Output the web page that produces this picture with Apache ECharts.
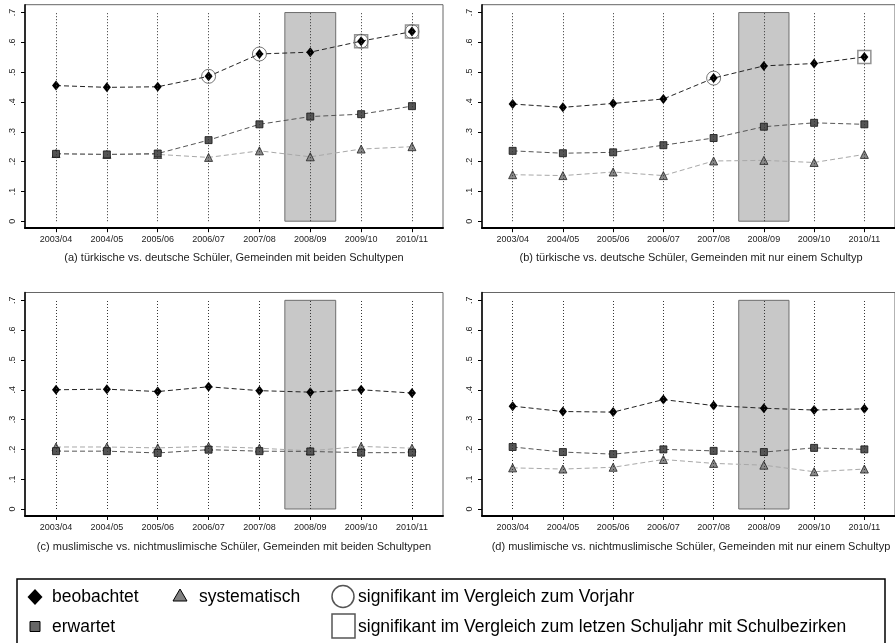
<!DOCTYPE html>
<html>
<head>
<meta charset="utf-8">
<script src="https://cdn.jsdelivr.net/npm/echarts@6.0.0/dist/echarts.min.js"></script>
<style>
html,body{margin:0;padding:0;background:#fff;}
#chart{width:895px;height:643px;}
</style>
</head>
<body>
<div id="chart"></div>
<script>
// ---------- data ----------
const categories = ['2003/04','2004/05','2005/06','2006/07','2007/08','2008/09','2009/10','2010/11'];
const yTickValues = [0, 0.1, 0.2, 0.3, 0.4, 0.5, 0.6, 0.7];
const yTickLabels = ['0', '.1', '.2', '.3', '.4', '.5', '.6', '.7'];
const highlightCategory = '2008/09';

const a_beobachtet   = [0.455, 0.449, 0.451, 0.486, 0.561, 0.567, 0.604, 0.636];
const a_erwartet     = [0.226, 0.224, 0.227, 0.272, 0.325, 0.351, 0.359, 0.386];
const a_systematisch = [0.227, 0.224, 0.224, 0.214, 0.236, 0.216, 0.242, 0.250];
const a_sigVorjahr   = ['2006/07', '2007/08', '2009/10', '2010/11'];
const a_sigBezirk    = ['2009/10', '2010/11'];

const b_beobachtet   = [0.393, 0.382, 0.395, 0.410, 0.480, 0.521, 0.529, 0.551];
const b_erwartet     = [0.236, 0.228, 0.231, 0.255, 0.279, 0.317, 0.330, 0.325];
const b_systematisch = [0.156, 0.153, 0.165, 0.153, 0.202, 0.204, 0.197, 0.224];
const b_sigVorjahr   = ['2007/08'];
const b_sigBezirk    = ['2010/11'];

const c_beobachtet   = [0.400, 0.402, 0.394, 0.410, 0.397, 0.392, 0.400, 0.389];
const c_erwartet     = [0.194, 0.194, 0.188, 0.199, 0.194, 0.193, 0.189, 0.189];
const c_systematisch = [0.208, 0.208, 0.205, 0.210, 0.204, 0.195, 0.210, 0.204];
const c_sigVorjahr   = [];
const c_sigBezirk    = [];

const d_beobachtet   = [0.345, 0.327, 0.325, 0.367, 0.347, 0.338, 0.332, 0.336];
const d_erwartet     = [0.208, 0.191, 0.184, 0.200, 0.195, 0.191, 0.205, 0.200];
const d_systematisch = [0.138, 0.134, 0.140, 0.166, 0.153, 0.147, 0.125, 0.134];
const d_sigVorjahr   = [];
const d_sigBezirk    = [];

const captions = [
  '(a) türkische vs. deutsche Schüler, Gemeinden mit beiden Schultypen',
  '(b) türkische vs. deutsche Schüler, Gemeinden mit nur einem Schultyp',
  '(c) muslimische vs. nichtmuslimische Schüler, Gemeinden mit beiden Schultypen',
  '(d) muslimische vs. nichtmuslimische Schüler, Gemeinden mit nur einem Schultyp'
];
const legendLabels = ['beobachtet', 'erwartet', 'systematisch',
  'signifikant im Vergleich zum Vorjahr',
  'signifikant im Vergleich zum letzen Schuljahr mit Schulbezirken'];

// ---------- layout ----------
const FONT = '"Liberation Sans", Arial, Helvetica, sans-serif';
const panelW = 418, panelH = 223.5;
const layout = [
  {left: 25,  top: 4.7},
  {left: 482, top: 4.7},
  {left: 25,  top: 292.5},
  {left: 482, top: 292.5}
];
const Y_MIN = -0.0235, Y_MAX = 0.7263;
const X_MIN = -0.61, X_MAX = 7.61;
const catIdx = categories.map((c, i) => i);

const panels = [
  {obs: a_beobachtet, exp: a_erwartet, sys: a_systematisch, sigV: a_sigVorjahr, sigB: a_sigBezirk},
  {obs: b_beobachtet, exp: b_erwartet, sys: b_systematisch, sigV: b_sigVorjahr, sigB: b_sigBezirk},
  {obs: c_beobachtet, exp: c_erwartet, sys: c_systematisch, sigV: c_sigVorjahr, sigB: c_sigBezirk},
  {obs: d_beobachtet, exp: d_erwartet, sys: d_systematisch, sigV: d_sigVorjahr, sigB: d_sigBezirk}
];

const grids = [], xAxes = [], yAxes = [], series = [], graphics = [];
const hi = categories.indexOf(highlightCategory);
const dash = [5, 3];

panels.forEach((p, k) => {
  const L = layout[k];
  grids.push({left: L.left, top: L.top, width: panelW, height: panelH,
    show: true, borderColor: '#666', borderWidth: 1, backgroundColor: '#fff', containLabel: false});
  xAxes.push({
    type: 'value', gridIndex: k, min: X_MIN, max: X_MAX,
    axisLine: {show: true, onZero: false, lineStyle: {color: '#000', width: 2}},
    axisTick: {show: true, customValues: catIdx, length: 4, lineStyle: {color: '#000', width: 1}},
    axisLabel: {show: true, customValues: catIdx, formatter: v => categories[Math.round(v)],
      fontSize: 9, fontFamily: FONT, color: '#222', margin: 7},
    splitLine: {show: false}
  });
  yAxes.push({
    type: 'value', gridIndex: k, min: Y_MIN, max: Y_MAX,
    axisLine: {show: true, onZero: false, lineStyle: {color: '#000', width: 1.5}},
    axisTick: {show: true, customValues: yTickValues, length: 4, lineStyle: {color: '#000', width: 1}},
    axisLabel: {show: true, customValues: yTickValues, rotate: 90,
      formatter: v => yTickLabels[Math.round(v * 10)],
      fontSize: 9, fontFamily: FONT, color: '#222', margin: 8},
    splitLine: {show: false}
  });

  // shaded school year
  series.push({
    type: 'line', xAxisIndex: k, yAxisIndex: k, data: [], z: 1, silent: true,
    markArea: {silent: true, z: 1,
      itemStyle: {color: '#c8c8c8', borderColor: '#6e6e6e', borderWidth: 1},
      data: [[{coord: [hi - 0.5, yTickValues[0]]}, {coord: [hi + 0.5, yTickValues[yTickValues.length - 1]]}]]}
  });
  // vertical dotted category lines
  series.push({
    type: 'line', xAxisIndex: k, yAxisIndex: k, data: [], z: 2, silent: true,
    markLine: {silent: true, symbol: ['none', 'none'], label: {show: false}, animation: false,
      lineStyle: {color: '#333', type: [1, 2], width: 1},
      data: catIdx.map(i => [{coord: [i, yTickValues[0]]}, {coord: [i, yTickValues[yTickValues.length - 1]]}])}
  });
  const lineSeries = (data, name, symbol, size, itemStyle, lineColor) => ({
    type: 'line', name, xAxisIndex: k, yAxisIndex: k, z: 3,
    data: data.map((v, i) => [i, v]),
    symbol, symbolSize: size, showSymbol: true,
    itemStyle, lineStyle: {color: lineColor, type: dash, width: 1},
    emphasis: {disabled: true}
  });
  series.push(lineSeries(p.sys, 'systematisch', 'triangle', 8,
    {color: '#8a8a8a', borderColor: '#222', borderWidth: 0.8}, '#a8a8a8'));
  series.push(lineSeries(p.exp, 'erwartet', 'rect', 7,
    {color: '#555', borderColor: '#111', borderWidth: 0.8}, '#555'));
  series.push(lineSeries(p.obs, 'beobachtet', 'diamond', [8, 10],
    {color: '#000'}, '#222'));
  series.push({
    type: 'scatter', xAxisIndex: k, yAxisIndex: k, z: 4, symbol: 'circle', symbolSize: 14,
    data: p.sigV.map(c => { const i = categories.indexOf(c); return [i, p.obs[i]]; }),
    itemStyle: {color: 'rgba(0,0,0,0)', borderColor: '#555', borderWidth: 1},
    emphasis: {disabled: true}
  });
  series.push({
    type: 'scatter', xAxisIndex: k, yAxisIndex: k, z: 4, symbol: 'rect', symbolSize: 13,
    data: p.sigB.map(c => { const i = categories.indexOf(c); return [i, p.obs[i]]; }),
    itemStyle: {color: 'rgba(0,0,0,0)', borderColor: '#777', borderWidth: 1.5},
    emphasis: {disabled: true}
  });

  graphics.push({
    type: 'text', silent: true,
    style: {text: captions[k], x: L.left + panelW / 2, y: (k < 2 ? 258.3 : 547.3),
      align: 'center', verticalAlign: 'middle', font: '11px ' + FONT, fill: '#222'}
  });
});

// ---------- legend (drawn) ----------
const LF = '17.5px ' + FONT;
graphics.push(
  {type: 'rect', silent: true, shape: {x: 17, y: 579, width: 868, height: 80},
    style: {fill: '#fff', stroke: '#000', lineWidth: 1.5}},
  {type: 'polygon', silent: true, shape: {points: [[35, 589], [42.5, 597], [35, 605], [27.5, 597]]},
    style: {fill: '#000'}},
  {type: 'text', silent: true, style: {text: legendLabels[0], x: 52, y: 597, verticalAlign: 'middle', font: LF, fill: '#000'}},
  {type: 'polygon', silent: true, shape: {points: [[180, 589], [187, 601], [173, 601]]},
    style: {fill: '#808080', stroke: '#000', lineWidth: 1}},
  {type: 'text', silent: true, style: {text: legendLabels[2], x: 199, y: 597, verticalAlign: 'middle', font: LF, fill: '#000'}},
  {type: 'circle', silent: true, shape: {cx: 343, cy: 596.5, r: 11},
    style: {fill: 'none', stroke: '#555', lineWidth: 1.5}},
  {type: 'text', silent: true, style: {text: legendLabels[3], x: 358, y: 597, verticalAlign: 'middle', font: LF, fill: '#000'}},
  {type: 'rect', silent: true, shape: {x: 30, y: 621.5, width: 10, height: 10},
    style: {fill: '#666', stroke: '#000', lineWidth: 1}},
  {type: 'text', silent: true, style: {text: legendLabels[1], x: 52, y: 627, verticalAlign: 'middle', font: LF, fill: '#000'}},
  {type: 'rect', silent: true, shape: {x: 332, y: 614, width: 23, height: 24},
    style: {fill: 'none', stroke: '#555', lineWidth: 1.5}},
  {type: 'text', silent: true, style: {text: legendLabels[4], x: 358, y: 627, verticalAlign: 'middle', font: LF, fill: '#000'}}
);

const chart = echarts.init(document.getElementById('chart'), null, {renderer: 'canvas'});
chart.setOption({
  animation: false,
  backgroundColor: '#fff',
  textStyle: {fontFamily: FONT},
  grid: grids, xAxis: xAxes, yAxis: yAxes, series,
  graphic: graphics
});
</script>
</body>
</html>
